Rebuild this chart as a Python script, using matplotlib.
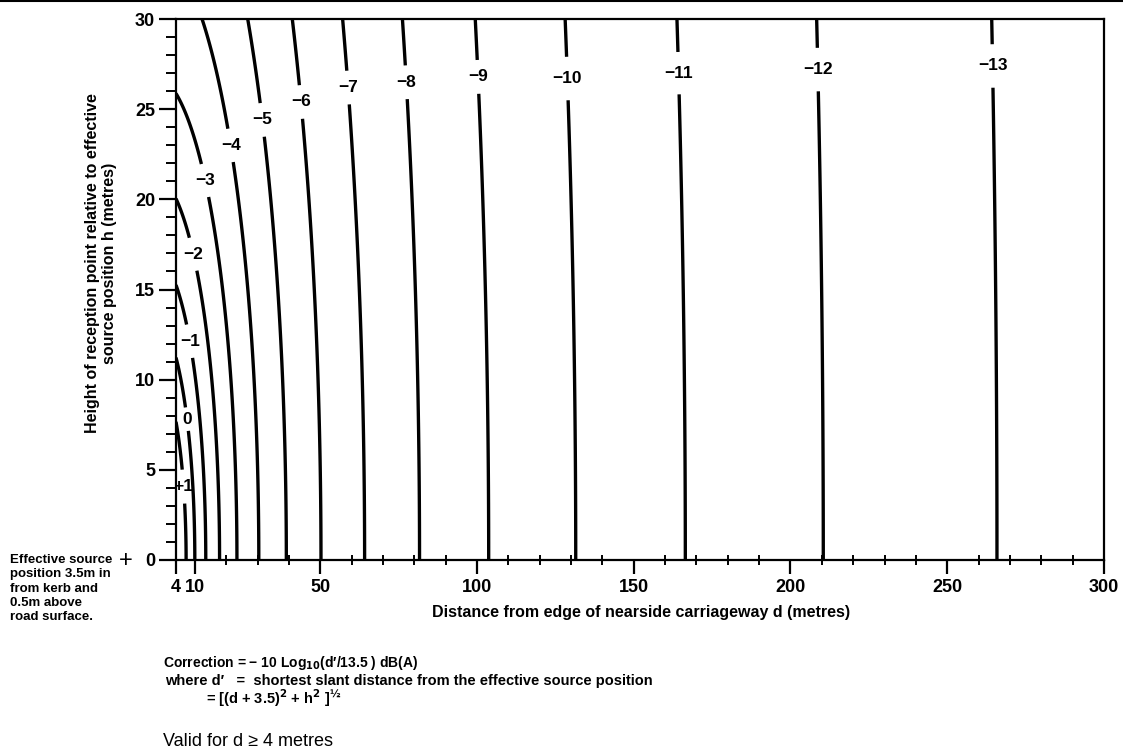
import numpy as np
import matplotlib
matplotlib.use("Agg")
import matplotlib.pyplot as plt
from matplotlib.ticker import FixedLocator
from matplotlib.lines import Line2D

plt.rcParams['font.family'] = ['Liberation Sans', 'DejaVu Sans']
plt.rcParams['contour.negative_linestyle'] = 'solid'

# chart values
levels = [-13, -12, -11, -10, -9, -8, -7, -6, -5, -4, -3, -2, -1, 0, 1]
level_text = ['\u221213', '\u221212', '\u221211', '\u221210', '\u22129', '\u22128', '\u22127',
              '\u22126', '\u22125', '\u22124', '\u22123', '\u22122', '\u22121', '0', '+1']
ref_distance = 13.5      # d' at which correction is zero
source_offset = 3.5      # source 3.5 m in from kerb
x_major = [4, 10, 50, 100, 150, 200, 250, 300]
x_minor = [v for v in range(20, 300, 10) if v % 50 != 0]
y_major = [0, 5, 10, 15, 20, 25, 30]
y_minor = list(range(0, 31))

# where the labels sit on each contour (d, h)
label_pos = [(266, 27.4), (210, 27.2), (165, 27.0), (129, 26.7), (101.6, 26.8),
             (78.3, 26.5), (59, 26.2), (44, 25.4), (31.3, 24.4), (21.7, 23.0),
             (12.1, 21.0), (8.0, 16.9), (7.3, 12.1), (7.0, 7.8), (4.8, 4.05)]

# correction field  -10 log10(d'/13.5),  d' = sqrt((d+3.5)^2 + h^2)
d = np.linspace(4, 300, 1500)
h = np.linspace(0, 30, 600)
D, H = np.meshgrid(d, h)
slant = np.sqrt((D + source_offset) ** 2 + H ** 2)
corr = -10 * np.log10(slant / ref_distance)

fig = plt.figure(figsize=(11.23, 7.51), dpi=100)
ax = fig.add_axes([176 / 1123, 1 - 560 / 751, (1104 - 176) / 1123, (560 - 19) / 751])

cs = ax.contour(D, H, corr, levels=levels, colors='black', linewidths=2.4,
                linestyles='solid')
fmt = dict(zip(cs.levels, level_text))
labels = ax.clabel(cs, levels=levels, inline=True, inline_spacing=7, fmt=fmt,
                   fontsize=12.5, manual=label_pos)
for t in labels:
    t.set_rotation(0)
    t.set_fontweight('bold')

ax.set_xlim(4, 300)
ax.set_ylim(0, 30)
ax.xaxis.set_major_locator(FixedLocator(x_major))
ax.xaxis.set_minor_locator(FixedLocator(x_minor))
ax.yaxis.set_major_locator(FixedLocator(y_major))
ax.yaxis.set_minor_locator(FixedLocator(y_minor))
ax.set_xticklabels([str(v) for v in x_major])
ax.set_yticklabels([str(v) for v in y_major])
ax.tick_params(axis='x', which='major', direction='out', length=10, width=1.6, pad=4,
               labelsize=13)
ax.tick_params(axis='x', which='minor', direction='inout', length=7, width=1.4)
ax.tick_params(axis='y', which='major', direction='out', length=12, width=1.6, pad=3,
               labelsize=13)
ax.tick_params(axis='y', which='minor', direction='out', length=7, width=1.4)
for lab in ax.get_xticklabels() + ax.get_yticklabels():
    lab.set_fontweight('bold')
for sp in ax.spines.values():
    sp.set_linewidth(1.6)

# axis titles
fig.text(641 / 1123, 1 - 612 / 751, 'Distance from edge of nearside carriageway d (metres)',
         ha='center', va='center', fontsize=11.5, fontweight='bold')
fig.text(101 / 1123, 1 - 263 / 751,
         'Height of reception point relative to effective\nsource position h (metres)',
         ha='center', va='center', rotation=90, fontsize=11.5, fontweight='bold',
         multialignment='center', linespacing=1.2)

# source position note
fig.text(126 / 1123, 1 - 561 / 751, '+', ha='center', va='center', fontsize=17)
fig.text(10 / 1123, 1 - 554 / 751,
         'Effective source\nposition 3.5m in\nfrom kerb and\n0.5m above\nroad surface.',
         ha='left', va='top', fontsize=9.5, fontweight='bold', linespacing=1.25)

# formula notes
fig.text(163 / 1123, 1 - 663 / 751,
         'Correction = \u2212 10 Log$_{\\mathbf{10}}$(d\u2032/13.5 ) dB(A)',
         ha='left', va='center', fontsize=10, fontweight='bold')
fig.text(165 / 1123, 1 - 681 / 751,
         'where d\u2032   =  shortest slant distance from the effective source position',
         ha='left', va='center', fontsize=10.5, fontweight='bold')
fig.text(206 / 1123, 1 - 698 / 751,
         '= [(d + 3.5)$^{\\mathbf{2}}$ + h$^{\\mathbf{2}}$ ]$^{\\mathbf{\u00bd}}$',
         ha='left', va='center', fontsize=10.5, fontweight='bold')
fig.text(163 / 1123, 1 - 741 / 751, 'Valid for d \u2265 4 metres',
         ha='left', va='center', fontsize=13)

# border line at top of the page
fig.add_artist(Line2D([0, 1], [0.999, 0.999], color='black', lw=1.5,
                      transform=fig.transFigure))

fig.savefig('out.png', dpi=100)
